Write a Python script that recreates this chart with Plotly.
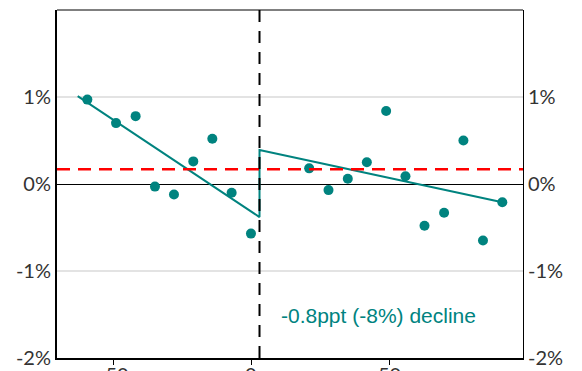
import plotly.graph_objects as go

# Data (x = running variable, y = percent)
left_x = [-59.4, -49.0, -41.9, -34.9, -28.0, -21.0, -14.1, -7.1, -0.1]
left_y = [0.97, 0.70, 0.78, -0.03, -0.12, 0.26, 0.52, -0.10, -0.57]
right_x = [21.0, 28.0, 35.0, 41.9, 48.9, 55.9, 62.8, 69.9, 76.9, 84.0, 91.0]
right_y = [0.18, -0.07, 0.06, 0.25, 0.84, 0.09, -0.48, -0.33, 0.50, -0.65, -0.21]

fit_left_x = [-62.9, 3.0]
fit_left_y = [1.01, -0.38]
fit_right_x = [3.0, 91.0]
fit_right_y = [0.39, -0.21]

cutoff = 3.0
mean_line = 0.17
annotation_text = "-0.8ppt (-8%) decline"

x_ticks = [-50, 0, 50]
x_labels = ["-50", "0", "50"]
y_ticks = [-2, -1, 0, 1]
y_labels = ["-2%", "-1%", "0%", "1%"]

TEAL = "#00837f"
XR = [-70.4, 98.5]
YR = [-2.0, 2.0]

fig = go.Figure()

# fitted lines
fig.add_trace(go.Scatter(x=fit_left_x + [fit_right_x[0]] + fit_right_x[1:],
                         y=fit_left_y + [fit_right_y[0]] + fit_right_y[1:],
                         mode="lines", line=dict(color=TEAL, width=2),
                         hoverinfo="skip", showlegend=False))
# points
fig.add_trace(go.Scatter(x=left_x + right_x, y=left_y + right_y, mode="markers",
                         marker=dict(color=TEAL, size=10), showlegend=False))
# invisible trace for right axis
fig.add_trace(go.Scatter(x=[XR[0]], y=[0], yaxis="y2", mode="markers",
                         marker=dict(opacity=0), showlegend=False, hoverinfo="skip"))

# red dashed mean line
fig.add_shape(type="line", xref="paper", x0=0, x1=1, yref="y", y0=mean_line, y1=mean_line,
              line=dict(color="red", width=2.5, dash="13px,8px"))
# vertical cutoff line
fig.add_shape(type="line", xref="x", x0=cutoff, x1=cutoff, yref="paper", y0=0, y1=1,
              line=dict(color="black", width=2, dash="12px,9px"))
# top border
fig.add_shape(type="line", xref="paper", x0=0, x1=1, yref="paper", y0=1, y1=1,
              line=dict(color="black", width=1))

fig.add_annotation(x=cutoff + 7, y=-1.51, xref="x", yref="y", text=annotation_text,
                   showarrow=False, xanchor="left", yanchor="middle",
                   font=dict(family="Liberation Sans, Arial", size=21, color=TEAL))

tickfont = dict(family="Lato, Carlito, sans-serif", size=20, color="#333333")

# x tick labels (placed just below the axis; partly cut by the window edge as in the original)
for xv, lab in zip(x_ticks, x_labels):
    fig.add_annotation(x=xv, y=0, xref="x", yref="paper", text=lab, showarrow=False,
                       xanchor="center", yanchor="top", yshift=-2, font=tickfont)

fig.update_layout(
    width=574, height=363,
    margin=dict(l=49, r=59, t=2, b=13, autoexpand=False),
    plot_bgcolor="white", paper_bgcolor="white",
    xaxis=dict(range=XR, tickvals=x_ticks, ticks="outside", ticklen=5, tickcolor="black",
               showgrid=False, zeroline=False, showline=True, linecolor="black", linewidth=2,
               showticklabels=False, automargin=False),
    yaxis=dict(range=YR, tickvals=y_ticks, ticktext=y_labels, showgrid=True,
               gridcolor="#e3e3e3", gridwidth=1.5, zeroline=True, zerolinecolor="black",
               zerolinewidth=1, showline=True, linecolor="black", linewidth=2,
               tickfont=tickfont, ticks="", automargin=False),
    yaxis2=dict(range=YR, tickvals=y_ticks, ticktext=y_labels, overlaying="y", side="right",
                showgrid=False, zeroline=False, showline=True, linecolor="black", linewidth=1,
                tickfont=tickfont, ticks="", automargin=False),
)

fig.write_html("out.html")
